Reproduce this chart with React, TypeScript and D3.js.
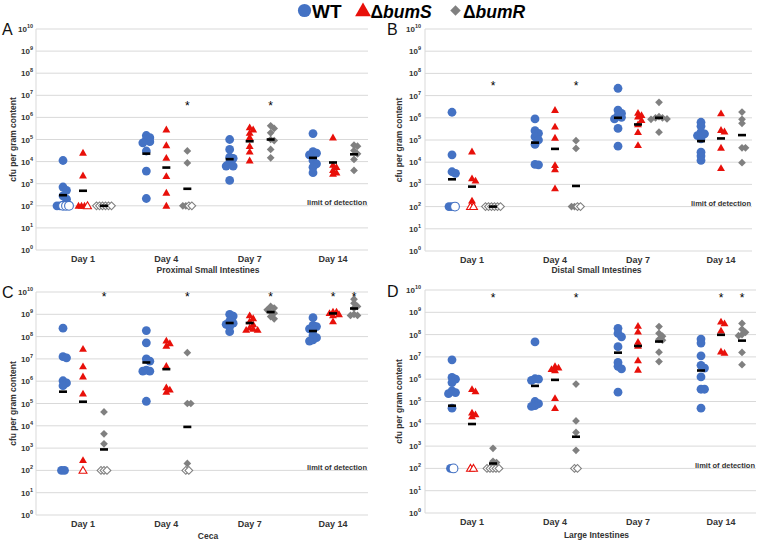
import React from "react";
import * as d3 from "d3";

// ---------- categories / ticks ----------
const days = ["Day 1", "Day 4", "Day 7", "Day 14"];
const yTickExponents = [0, 1, 2, 3, 4, 5, 6, 7, 8, 9, 10];
const LOD = 2; // limit of detection, log10 cfu

// ---------- data: log10 cfu per gram (filled markers), per day ----------
// Panel A – Proximal Small Intestines
const A_WT = [[4.05, 2.85, 2.7, 2.45, 2.3, 2, 2], [5.18, 5.08, 5.0, 4.9, 4.85, 4.48, 3.57, 2.33], [5.0, 4.55, 4.2, 4.15, 3.95, 3.8, 3.8, 3.15], [5.27, 4.45, 4.38, 4.3, 4.05, 3.9, 3.75, 3.5]];
const A_S = [[4.4, 3.37, 2, 2, 2], [5.45, 4.74, 4.17, 3.34, 2.59, 2], [5.55, 5.45, 5.3, 5.1, 4.7, 4.45, 4.05], [5.09, 3.85, 3.75, 3.62, 3.5, 3.45]];
const A_R = [[], [4.48, 3.94, 2, 2], [5.62, 5.5, 5.3, 5.0, 4.95, 4.55, 4.17], [4.74, 4.7, 4.5, 4.35, 4.1, 3.6]];
const A_WT_open = [3, 0, 0, 0];
const A_S_open = [1, 0, 0, 0];
const A_R_open = [6, 2, 0, 0];
const A_WT_med = [2.48, 4.36, 4.11, 4.17];
const A_S_med = [2.68, 3.73, 4.92, 3.96];
const A_R_med = [2, 2.77, 5.0, 4.33];
const A_stars = [{ day: 1, strain: "R", v: 6.62 }, { day: 2, strain: "R", v: 6.62 }];

// Panel B – Distal Small Intestines
const B_WT = [[6.25, 4.33, 3.57, 3.5, 2, 2], [5.95, 5.42, 5.3, 5.15, 5.0, 4.8, 3.9, 3.88], [7.33, 6.35, 6.2, 6.1, 6.02, 5.95, 5.52, 4.72], [5.8, 5.62, 5.35, 5.28, 5.2, 5.05, 4.45, 4.28, 4.08]];
const B_S = [[4.48, 3.27, 3.17, 2.27], [6.35, 5.6, 5.1, 3.87, 3.68, 2.82], [6.22, 6.12, 6.05, 5.9, 5.7, 5.35, 4.77], [6.2, 5.45, 5.38, 4.65, 3.73]];
const B_R = [[], [4.97, 4.62, 2, 2], [6.7, 6.05, 6.0, 6.0, 5.95, 5.93, 5.35], [6.26, 5.93, 5.75, 4.65, 4.65, 3.98]];
const B_WT_open = [1, 0, 0, 0];
const B_S_open = [2, 0, 0, 0];
const B_R_open = [6, 2, 0, 0];
const B_WT_med = [3.23, 4.88, 6.0, 4.95];
const B_S_med = [2.9, 4.6, 5.7, 5.07];
const B_R_med = [2, 2.93, 6.0, 5.22];
const B_stars = [{ day: 0, strain: "R", v: 7.55 }, { day: 1, strain: "R", v: 7.55 }];

// Panel C – Ceca
const C_WT = [[8.38, 7.1, 7.05, 6.02, 5.92, 5.8, 2, 2], [8.27, 7.72, 7.0, 6.9, 6.5, 6.45, 6.45, 5.1], [9.0, 8.92, 8.7, 8.6, 8.55, 8.45, 8.22], [8.85, 8.5, 8.45, 8.35, 8.3, 8.05, 7.95, 7.85, 7.8]];
const C_S = [[7.45, 6.66, 6.21, 5.44, 2.46], [7.82, 7.7, 7.58, 6.68, 5.72, 5.62, 5.52], [8.95, 8.82, 8.68, 8.55, 8.4, 8.35, 8.3, 8.3], [9.12, 9.12, 9.05, 9.0, 8.95, 8.68]];
const C_R = [[4.62, 3.64, 3.19], [7.28, 5.0, 5.0, 2.31], [9.35, 9.28, 9.2, 9.1, 9.05, 8.9, 8.8], [9.68, 9.5, 9.35, 9.28, 9.0, 8.95, 8.95]];
const C_WT_open = [0, 0, 0, 0];
const C_S_open = [1, 0, 0, 0];
const C_R_open = [3, 2, 0, 0];
const C_WT_med = [5.53, 6.84, 8.61, 8.25];
const C_S_med = [5.08, 6.54, 8.61, 9.04];
const C_R_med = [2.94, 3.95, 9.1, 9.26];
const C_stars = [{ day: 0, strain: "R", v: 9.88 }, { day: 1, strain: "R", v: 9.88 }, { day: 2, strain: "R", v: 9.88 }, { day: 3, strain: "S", v: 9.88 }, { day: 3, strain: "R", v: 9.88 }];

// Panel D – Large Intestines
const D_WT = [[6.87, 6.08, 6.0, 5.85, 5.48, 5.4, 5.35, 4.7, 2], [7.67, 6.02, 6.0, 5.95, 5.0, 4.9, 4.82, 4.78], [8.28, 8.05, 7.9, 7.46, 6.75, 6.58, 6.46, 5.42], [7.8, 7.62, 7.05, 6.62, 6.5, 6.1, 5.55, 5.55, 4.7]];
const D_S = [[5.55, 5.45, 4.5, 4.42, 4.33], [6.58, 6.52, 6.45, 6.4, 5.15, 4.7], [8.39, 8.13, 7.67, 7.5, 6.84, 6.42], [8.58, 8.5, 8.18, 7.24, 7.18]];
const D_R = [[2.9, 2.32, 2.26], [5.78, 4.13, 3.61, 2.81], [8.36, 8.06, 7.93, 7.79, 7.75, 7.21, 6.79], [8.5, 8.24, 8.1, 8.0, 7.95, 7.2, 6.65]];
const D_WT_open = [1, 0, 0, 0];
const D_S_open = [2, 0, 0, 0];
const D_R_open = [5, 2, 0, 0];
const D_WT_med = [4.81, 5.7, 7.19, 6.39];
const D_S_med = [3.99, 5.97, 7.49, 7.99];
const D_R_med = [2.22, 3.42, 7.69, 7.73];
const D_stars = [{ day: 0, strain: "R", v: 9.75 }, { day: 1, strain: "R", v: 9.75 }, { day: 3, strain: "S", v: 9.75 }, { day: 3, strain: "R", v: 9.75 }];

// ---------- styles ----------
const BLUE = "#4472c4";
const RED = "#e8100a";
const GREY = "#808080";
const TEXT = "#333333";
const GRID = "#d9d9d9";
const FONT = "'Liberation Sans', Arial, Helvetica, sans-serif";

const panels = [
  { letter: "A", title: "Proximal Small Intestines", wt: A_WT, s: A_S, r: A_R, wtOpen: A_WT_open, sOpen: A_S_open, rOpen: A_R_open, wtMed: A_WT_med, sMed: A_S_med, rMed: A_R_med, stars: A_stars,
    geo: { left: 36, right: 368, top: 29, bottom: 250, c0: 83, c1: 333, letterX: 2, letterY: 35, yTitleX: 12.5, tickX: 33, dayY: 261.5, titleY: 272.5 } },
  { letter: "B", title: "Distal Small Intestines", wt: B_WT, s: B_S, r: B_R, wtOpen: B_WT_open, sOpen: B_S_open, rOpen: B_R_open, wtMed: B_WT_med, sMed: B_S_med, rMed: B_R_med, stars: B_stars,
    geo: { left: 425, right: 752, top: 29, bottom: 251, c0: 472, c1: 721, letterX: 387, letterY: 35, yTitleX: 399, tickX: 421, dayY: 262.5, titleY: 273 } },
  { letter: "C", title: "Ceca", wt: C_WT, s: C_S, r: C_R, wtOpen: C_WT_open, sOpen: C_S_open, rOpen: C_R_open, wtMed: C_WT_med, sMed: C_S_med, rMed: C_R_med, stars: C_stars,
    geo: { left: 36, right: 368, top: 292, bottom: 515, c0: 83, c1: 333, letterX: 2, letterY: 298, yTitleX: 12.5, tickX: 33, dayY: 526.5, titleY: 539 } },
  { letter: "D", title: "Large Intestines", wt: D_WT, s: D_S, r: D_R, wtOpen: D_WT_open, sOpen: D_S_open, rOpen: D_R_open, wtMed: D_WT_med, sMed: D_S_med, rMed: D_R_med, stars: D_stars,
    geo: { left: 425, right: 756, top: 290, bottom: 513, c0: 472, c1: 721, letterX: 387, letterY: 297, yTitleX: 399, tickX: 421, dayY: 525, titleY: 538 } },
];

const colOffset: Record<string, number> = { WT: -20, S: 0, R: 21 };

function Marker({ shape, x, y, color, open, k = 1 }: any) {
  const fill = open ? "#ffffff" : color;
  const stroke = open ? color : "none";
  if (shape === "circle") {
    return <circle cx={x} cy={y} r={4.4 * k} fill={fill} stroke={stroke} strokeWidth={1.1} />;
  }
  if (shape === "triangle") {
    const d = d3.symbol().type(d3.symbolTriangle).size(27 * k * k)() as string;
    return <path d={d} transform={`translate(${x},${y + 0.6 * k})`} fill={fill} stroke={stroke} strokeWidth={1.1} />;
  }
  const d = d3.symbol().type(d3.symbolSquare).size(30 * k * k)() as string;
  return <path d={d} transform={`translate(${x},${y}) rotate(45)`} fill={fill} stroke={stroke} strokeWidth={1.1} />;
}

function layoutColumn(vals: number[], nOpen: number, cx: number, yf: (v: number) => number) {
  const pts: { x: number; y: number; open: boolean }[] = [];
  const lodFilled = vals.filter((v) => v <= LOD).length;
  const rowN = lodFilled + nOpen;
  const sp = 3;
  for (let i = 0; i < rowN; i++) {
    pts.push({ x: cx + (i - (rowN - 1) / 2) * sp, y: yf(LOD), open: i >= lodFilled });
  }
  const above = vals.filter((v) => v > LOD).sort((a, b) => b - a);
  const placed: { x: number; y: number }[] = [];
  const offs = [0, 3.5, -3.5, 6, -6, 8, -8];
  for (const v of above) {
    const py = yf(v);
    let chosen = 0;
    for (const o of offs) {
      if (placed.every((p) => Math.hypot(p.x - (cx + o), p.y - py) >= 3.5)) {
        chosen = o;
        break;
      }
    }
    placed.push({ x: cx + chosen, y: py });
  }
  return [...placed.map((p) => ({ ...p, open: false })), ...pts.filter((p) => !p.open), ...pts.filter((p) => p.open)];
}

function Panel({ p }: any) {
  const g = p.geo;
  const y = d3.scaleLinear().domain([0, 10]).range([g.bottom, g.top]);
  const x = d3.scalePoint<string>().domain(days).range([g.c0, g.c1]);
  const series = [
    { key: "WT", vals: p.wt, open: p.wtOpen, med: p.wtMed, color: BLUE, shape: "circle" },
    { key: "S", vals: p.s, open: p.sOpen, med: p.sMed, color: RED, shape: "triangle" },
    { key: "R", vals: p.r, open: p.rOpen, med: p.rMed, color: GREY, shape: "diamond" },
  ];
  const midX = (g.c0 + g.c1) / 2;
  const midY = (g.top + g.bottom) / 2;
  return (
    <g>
      {yTickExponents.map((e) => (
        <line key={"g" + e} x1={g.left} x2={g.right} y1={y(e)} y2={y(e)} stroke={GRID} strokeWidth={1} />
      ))}
      <line x1={g.left} x2={g.left} y1={g.top} y2={g.bottom} stroke={GRID} strokeWidth={1} />
      {yTickExponents.map((e) => (
        <text key={"t" + e} x={g.tickX} y={y(e) + 3} textAnchor="end" fontSize={8} fontWeight="bold" fill={TEXT}>
          10<tspan fontSize={5.5} dy={-4}>{e}</tspan>
        </text>
      ))}
      <text transform={`translate(${g.yTitleX},${midY}) rotate(-90)`} textAnchor="middle" dominantBaseline="central" fontSize={8.5} fontWeight="bold" fill={TEXT}>
        cfu per gram content
      </text>
      <text x={g.letterX} y={g.letterY} fontSize={16} fill="#111">{p.letter}</text>
      {days.map((d) => (
        <text key={d} x={x(d)} y={g.dayY} textAnchor="middle" fontSize={9} fontWeight="bold" fill={TEXT}>{d}</text>
      ))}
      <text x={midX} y={g.titleY} textAnchor="middle" fontSize={8.5} fontWeight="bold" fill={TEXT}>{p.title}</text>
      <text x={g.right - 1} y={y(LOD) - 0.5} textAnchor="end" fontSize={7.5} fontWeight="bold" fill={TEXT}>limit of detection</text>
      {series.map((s) =>
        days.map((d, di) => {
          const cx = (x(d) as number) + colOffset[s.key];
          const pts = layoutColumn(s.vals[di], s.open[di], cx, y);
          return (
            <g key={s.key + d}>
              {pts.map((pt, i) => (
                <Marker key={i} shape={s.shape} x={pt.x} y={pt.y} color={s.color} open={pt.open} />
              ))}
            </g>
          );
        })
      )}
      {series.map((s) =>
        days.map((d, di) => {
          const cx = (x(d) as number) + colOffset[s.key];
          return <rect key={"m" + s.key + d} x={cx - 4} y={y(s.med[di]) - 1.3} width={8} height={2.6} fill="#000" />;
        })
      )}
      {p.stars.map((st: any, i: number) => (
        <text key={"s" + i} x={(x(days[st.day]) as number) + colOffset[st.strain]} y={y(st.v) + 6.5} textAnchor="middle" fontSize={12} fill="#000">*</text>
      ))}
    </g>
  );
}

function Legend() {
  return (
    <g fontWeight="bold" fill="#000">
      <Marker shape="circle" x={304.5} y={10.5} color={BLUE} open={false} k={1.5} />
      <text x={312} y={18.3} fontSize={19}>WT</text>
      <Marker shape="triangle" x={363} y={10.5} color={RED} open={false} k={2} />
      <text x={370.5} y={18.3} fontSize={17.5}>Δ<tspan fontStyle="italic">bumS</tspan></text>
      <Marker shape="diamond" x={455.5} y={10.5} color={GREY} open={false} k={1.35} />
      <text x={463} y={18.3} fontSize={17.5}>Δ<tspan fontStyle="italic">bumR</tspan></text>
    </g>
  );
}

export default function App() {
  return (
    <svg width={757} height={541} style={{ position: "absolute", left: 0, top: 0, background: "#fff" }} fontFamily={FONT}>
      <rect width={757} height={541} fill="#fff" />
      <Legend />
      {panels.map((p) => (
        <Panel key={p.letter} p={p} />
      ))}
    </svg>
  );
}
